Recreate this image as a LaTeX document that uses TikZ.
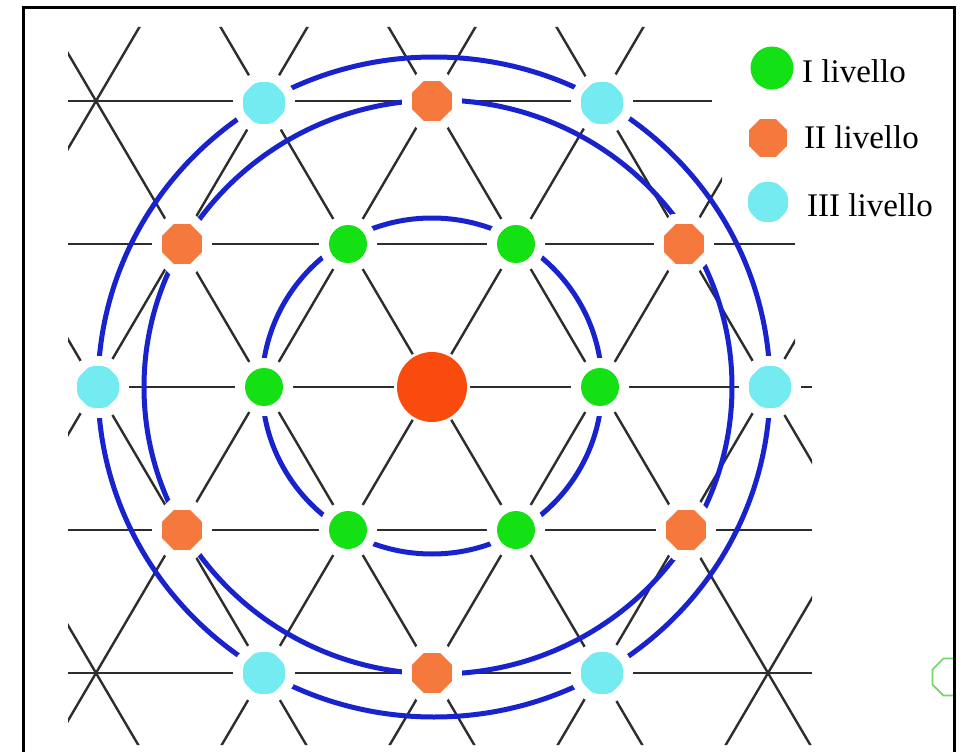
\documentclass[tikz,border=0pt]{standalone}
\usepackage{fontspec}
\setmainfont{Liberation Serif}
\usetikzlibrary{shapes.geometric}
\definecolor{lvOne}{RGB}{20,225,20}
\definecolor{lvTwo}{RGB}{245,120,60}
\definecolor{lvThree}{RGB}{115,235,240}
\definecolor{coreRed}{RGB}{250,75,15}
\definecolor{ringBlue}{RGB}{25,35,205}
\definecolor{latGray}{RGB}{45,45,45}
\definecolor{ghostGreen}{RGB}{110,215,110}
\tikzset{
  lattice/.style={draw=latGray, line width=2.4pt},
  ring/.style={draw=ringBlue, line width=5pt},
  halo/.style={preaction={draw=white, line width=#1}},
  halo/.default=20pt,
  lvI/.style={circle, fill=lvOne, minimum size=38pt, inner sep=0pt},
  lvII/.style={regular polygon, regular polygon sides=8, fill=lvTwo, minimum size=43pt, inner sep=0pt},
  lvIII/.style={regular polygon, regular polygon sides=8, rounded corners=4pt, fill=lvThree, minimum size=45pt, inner sep=0pt},
  core/.style={circle, fill=coreRed, minimum size=70pt, inner sep=0pt},
  legtext/.style={anchor=base west, font=\fontsize{33}{38}\selectfont, inner sep=0pt}
}
\begin{document}
\begin{tikzpicture}[x=1pt, y=-1pt]
\useasboundingbox (0,0) rectangle (962,752);
\fill[white] (0,0) rectangle (962,752);

% lattice lines
\begin{scope}
  \clip (68,27) -- (722,27) -- (722,215) -- (795,215) -- (795,360) -- (812,360) -- (812,745) -- (68,745) -- cycle;
  \foreach \j in {-6,...,6} {
    \draw[lattice] ({432+168*\j+84/143*387},0) -- ({432+168*\j-84/143*373},760);
    \draw[lattice] ({432+168*\j-84/143*387},0) -- ({432+168*\j+84/143*373},760);
  }
\end{scope}
\draw[lattice] (68,101) -- (712,101);
\draw[lattice] (68,244) -- (795,244);
\draw[lattice] (68,387) -- (812,387);
\draw[lattice] (68,530) -- (812,530);
\draw[lattice] (68,673) -- (812,673);

% blue rings
\draw[ring] (432,386) ellipse [x radius=170, y radius=168];
\draw[ring] (438,387) ellipse [x radius=294, y radius=287];
\draw[ring] (434,387) ellipse [x radius=336, y radius=330];

% centre
\node[core, halo=6pt] (c) at (432,387) {};

% level I
\node[lvI, halo] (g1) at (348,244) {};
\node[lvI, halo] (g2) at (516,244) {};
\node[lvI, halo] (g3) at (264,387) {};
\node[lvI, halo] (g4) at (600,387) {};
\node[lvI, halo] (g5) at (348,530) {};
\node[lvI, halo] (g6) at (516,530) {};

% level II
\node[lvII, halo] (o1) at (432,101) {};
\node[lvII, halo] (o2) at (182,244) {};
\node[lvII, halo] (o3) at (684,244) {};
\node[lvII, halo] (o4) at (182,530) {};
\node[lvII, halo] (o5) at (686,530) {};
\node[lvII, halo] (o6) at (432,673) {};

% level III
\node[lvIII, halo] (b1) at (264,103) {};
\node[lvIII, halo] (b2) at (602,103) {};
\node[lvIII, halo] (b3) at (98,387) {};
\node[lvIII, halo] (b4) at (770,387) {};
\node[lvIII, halo] (b5) at (264,673) {};
\node[lvIII, halo] (b6) at (602,673) {};

% legend
\node[circle, fill=lvOne, minimum size=43pt, inner sep=0pt] (k1) at (772,68) {};
\node[lvII, minimum size=41pt] (k2) at (768,138) {};
\node[lvIII, minimum size=43pt] (k3) at (768,202) {};
\node[legtext] (t1) at (802,82) {I livello};
\node[legtext] (t2) at (804,148) {II livello};
\node[legtext] (t3) at (807,216) {III livello};

% partial ghost octagon at right edge
\begin{scope}
  \clip (900,600) rectangle (953,760);
  \node[regular polygon, regular polygon sides=8, draw=ghostGreen, line width=1.6pt, minimum size=40pt] (gh) at (951,677) {};
\end{scope}

% frame
\draw[line width=3pt, black] (23,760) -- (23,8) -- (954,8) -- (954,760);
\end{tikzpicture}
\end{document}
